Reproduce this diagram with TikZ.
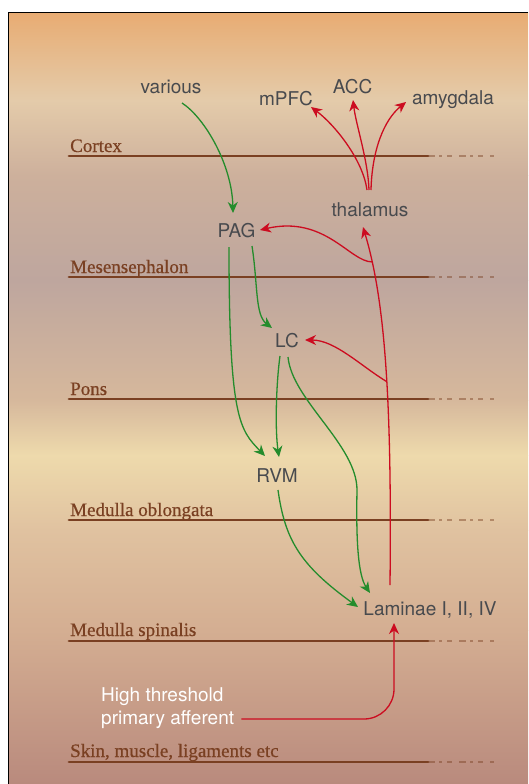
\documentclass[tikz,border=0pt]{standalone}
\usepackage{fontspec}
\setmainfont{Liberation Serif}
\setsansfont{TeX Gyre Heros}
\newfontfamily\layerfont[FakeBold=0.6]{Liberation Serif}
\usepackage{tikz}
\usetikzlibrary{arrows.meta, calc}
\definecolor{painBrown}{RGB}{122, 64, 34}
\definecolor{painGray}{RGB}{72, 74, 78}
\definecolor{painGreen}{RGB}{36, 140, 44}
\definecolor{painRed}{RGB}{204, 12, 32}
\definecolor{bgA}{RGB}{232, 172, 115}
\definecolor{bgB}{RGB}{228, 203, 170}
\definecolor{bgC}{RGB}{205, 176, 156}
\definecolor{bgD}{RGB}{190, 166, 158}
\definecolor{bgE}{RGB}{214, 184, 156}
\definecolor{bgF}{RGB}{238, 218, 172}
\definecolor{bgG}{RGB}{224, 194, 160}
\definecolor{bgH}{RGB}{212, 174, 146}
\definecolor{bgI}{RGB}{185, 138, 125}

\begin{document}
\begin{tikzpicture}[x=1pt, y=-1pt,
  regionlabel/.style={anchor=base west, inner sep=0pt, text=painBrown,
              font=\layerfont\fontsize{19}{22}\selectfont},
  brush/.style={draw=painBrown, line width=2.8pt, line cap=round},
  brushfade/.style={draw=painBrown, line width=1.5pt, opacity=0.45,
              dash pattern=on 7pt off 4pt on 3pt off 5pt on 5pt off 7pt},
  brainarea/.style={anchor=base, inner sep=0pt, text=painGray,
              font=\sffamily\fontsize{19}{23}\selectfont},
  descarrow/.style={draw=painGreen, line width=1.3pt,
              -{Stealth[length=11pt, width=10pt, inset=3.5pt]}},
  ascarrow/.style={draw=painRed, line width=1.3pt,
              -{Stealth[length=11pt, width=10pt, inset=3.5pt]}},
]
  \useasboundingbox (0,0) rectangle (528,784);

  % Background
  \shade[top color=bgA, bottom color=bgB] (9,13) rectangle (528,100.5);
  \shade[top color=bgB, bottom color=bgC] (9,100) rectangle (528,175.5);
  \shade[top color=bgC, bottom color=bgD] (9,175) rectangle (528,280.5);
  \shade[top color=bgD, bottom color=bgE] (9,280) rectangle (528,400.5);
  \shade[top color=bgE, bottom color=bgF] (9,400) rectangle (528,455.5);
  \shade[top color=bgF, bottom color=bgG] (9,455) rectangle (528,530.5);
  \shade[top color=bgG, bottom color=bgH] (9,530) rectangle (528,630.5);
  \shade[top color=bgH, bottom color=bgI] (9,630) rectangle (528,784);
  \draw[line width=1.4pt] (8.5,784) -- (8.5,12.5) -- (528,12.5);

  % Layers
  \node[regionlabel] (cortex) at (70,152) {Cortex};
  \node[regionlabel] (mesen) at (70,273) {Mesensephalon};
  \node[regionlabel] (pons) at (70,395) {Pons};
  \node[regionlabel] (oblong) at (70,516) {Medulla oblongata};
  \node[regionlabel] (spinal) at (70,636) {Medulla spinalis};
  \node[regionlabel] (skin) at (70,757) {Skin, muscle, ligaments etc};

  \draw[brush] ($(cortex.base west)+(-1,4)$) -- ++(359,0) coordinate (ecortex);
  \draw[brushfade] (ecortex) -- ++(66,0);
  \draw[brush] ($(mesen.base west)+(-1,4)$) -- ++(359,0) coordinate (emesen);
  \draw[brushfade] (emesen) -- ++(66,0);
  \draw[brush] ($(pons.base west)+(-1,4)$) -- ++(359,0) coordinate (epons);
  \draw[brushfade] (epons) -- ++(66,0);
  \draw[brush] ($(oblong.base west)+(-1,4)$) -- ++(359,0) coordinate (eoblong);
  \draw[brushfade] (eoblong) -- ++(66,0);
  \draw[brush] ($(spinal.base west)+(-1,5)$) -- ++(359,0) coordinate (espinal);
  \draw[brushfade] (espinal) -- ++(66,0);
  \draw[brush] ($(skin.base west)+(-1,5)$) -- ++(359,0) coordinate (eskin);
  \draw[brushfade] (eskin) -- ++(66,0);

  % Areas
  \node[brainarea] (various) at (171,93) {various};
  \node[brainarea] (mpfc) at (286,105) {mPFC};
  \node[brainarea] (acc) at (352.5,93) {ACC};
  \node[brainarea] (amyg) at (453,104) {amygdala};
  \node[brainarea] (thal) at (370,216) {thalamus};
  \node[brainarea] (pag) at (236.5,237) {PAG};
  \node[brainarea] (lc) at (287,347) {LC};
  \node[brainarea] (rvm) at (277,482) {RVM};
  \node[brainarea] (lam) at (430,615) {Laminae I, II, IV};
  \node[brainarea, anchor=west, align=left, text=white] (afferent) at (101,708)
    {High threshold\\primary afferent};

  % Descending pathway
  \draw[descarrow] ($(various.base)+(11,10)$) .. controls +(23,15) and +(-1,-48) .. ($(pag.base)+(-3.5,-24)$);
  \draw[descarrow] ($(pag.base)+(-7.5,10)$) .. controls +(0,173) and +(-25,-26) .. ($(rvm.base)+(-12,-26)$);
  \draw[descarrow] ($(pag.base)+(15.5,9)$) .. controls +(6,39) and +(-17,-13) .. ($(lc.base)+(-15,-19)$);
  \draw[descarrow] ($(lc.base)+(-7,9)$) .. controls +(-4,29) and +(-4,-27) .. ($(rvm.base)+(2,-25)$);
  \draw[descarrow] ($(lc.base)+(1,10)$) .. controls +(4,43) and +(0,-45) .. (357,490)
    .. controls +(-1,50) and +(-12,-18) .. ($(lam.base)+(-60,-22)$);
  \draw[descarrow] ($(rvm.base)+(1,8)$) .. controls +(7,50) and +(-58,-42) .. ($(lam.base)+(-72,-8)$);

  % Ascending pathway
  \coordinate (hub) at ($(thal.base)+(-1,-26)$);
  \draw[ascarrow] ([xshift=-2pt]hub) .. controls +(-4,-30) and +(24,18) .. ($(mpfc.base)+(25,2)$);
  \draw[ascarrow] (hub) .. controls +(-1,-30) and +(3,25) .. ($(acc.base)+(0.5,7)$);
  \draw[ascarrow] ([xshift=2pt]hub) .. controls +(1,-40) and +(-22,18) .. ($(amyg.base)+(-47,-2)$);
  \draw[ascarrow] ($(lam.base)+(-40,-30)$) .. controls +(2,-185) and +(22,73) .. ($(thal.base)+(-7,11)$)
    coordinate[pos=0.45] (br2) coordinate[pos=0.85] (br1);
  \draw[ascarrow] (br1) .. controls +(-22,0) and +(65,-15) .. ($(pag.base)+(23.5,-7)$);
  \draw[ascarrow] (br2) .. controls +(-25,-15) and +(30,0) .. ($(lc.base)+(18,-7)$);
  \draw[ascarrow, rounded corners=30pt] ($(afferent.east)+(7,11)$) -| ($(lam.base)+(-36,8)$);
\end{tikzpicture}
\end{document}
